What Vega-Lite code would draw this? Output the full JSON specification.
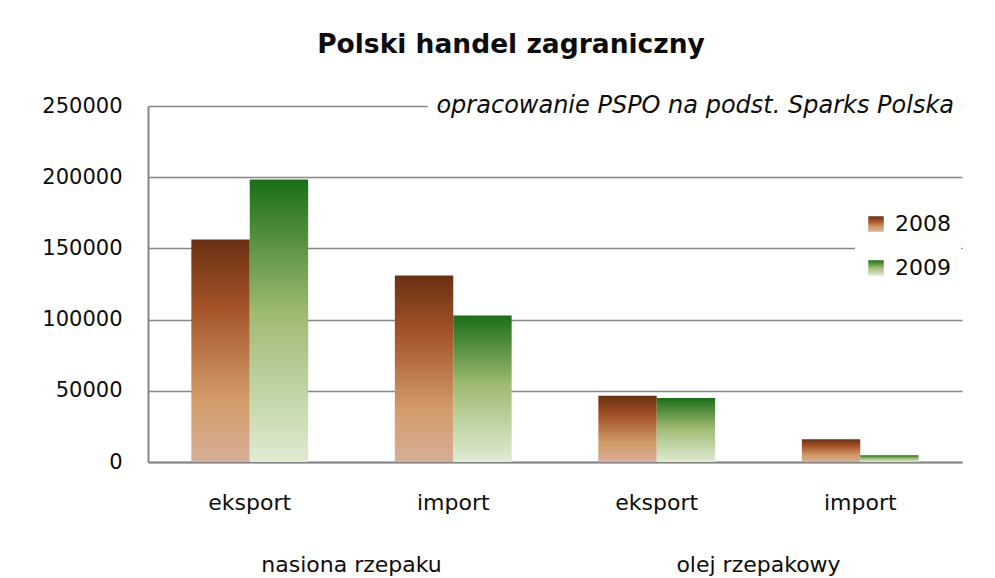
{
  "$schema": "https://vega.github.io/schema/vega-lite/v6.json",
  "width": 814,
  "height": 356,
  "autosize": {"type": "none"},
  "padding": {"left": 148, "top": 106, "right": 33, "bottom": 116},
  "background": "white",
  "title": {
    "text": "Polski handel zagraniczny",
    "font": "DejaVu Sans",
    "fontSize": 26.5,
    "fontWeight": "bold",
    "color": "#0d0d0d",
    "anchor": "middle",
    "baseline": "alphabetic",
    "offset": 15,
    "dx": -44
  },
  "data": {
    "values": [
      {"cat": "nasiona rzepaku|eksport", "product": "nasiona rzepaku", "flow": "eksport", "year": "2008", "value": 156300},
      {"cat": "nasiona rzepaku|eksport", "product": "nasiona rzepaku", "flow": "eksport", "year": "2009", "value": 198300},
      {"cat": "nasiona rzepaku|import", "product": "nasiona rzepaku", "flow": "import", "year": "2008", "value": 131000},
      {"cat": "nasiona rzepaku|import", "product": "nasiona rzepaku", "flow": "import", "year": "2009", "value": 102800},
      {"cat": "olej rzepakowy|eksport", "product": "olej rzepakowy", "flow": "eksport", "year": "2008", "value": 46500},
      {"cat": "olej rzepakowy|eksport", "product": "olej rzepakowy", "flow": "eksport", "year": "2009", "value": 45000},
      {"cat": "olej rzepakowy|import", "product": "olej rzepakowy", "flow": "import", "year": "2008", "value": 16000},
      {"cat": "olej rzepakowy|import", "product": "olej rzepakowy", "flow": "import", "year": "2009", "value": 4800}
    ]
  },
  "layer": [
    {
      "mark": {"type": "bar"},
      "encoding": {
        "x": {
          "field": "cat",
          "type": "nominal",
          "sort": null,
          "scale": {"paddingInner": 0.426, "paddingOuter": 0.213},
          "axis": {
            "title": null,
            "orient": "bottom",
            "labelExpr": "split(datum.label, '|')[1]",
            "labelAngle": 0,
            "labelFontSize": 22,
            "labelPadding": 30,
            "ticks": false,
            "grid": false,
            "domain": true,
            "domainColor": "#868686",
            "domainWidth": 2
          }
        },
        "xOffset": {
          "field": "year",
          "type": "nominal",
          "scale": {"paddingInner": 0, "paddingOuter": 0}
        },
        "y": {
          "field": "value",
          "type": "quantitative",
          "scale": {"domain": [0, 250000], "nice": false},
          "axis": {
            "title": null,
            "values": [0, 50000, 100000, 150000, 200000, 250000],
            "format": "d",
            "labelFontSize": 21,
            "labelPadding": 26,
            "ticks": false,
            "domain": true,
            "domainColor": "#868686",
            "domainWidth": 2,
            "grid": true,
            "gridColor": "#868686",
            "gridWidth": 1.5
          }
        },
        "fill": {
          "condition": {
            "test": "datum.year === '2008'",
            "value": {"gradient": "linear", "x1": 0, "y1": 0, "x2": 0, "y2": 1, "stops": [
              {"offset": 0, "color": "#6a3014"},
              {"offset": 0.3, "color": "#a35228"},
              {"offset": 0.72, "color": "#d39c6a"},
              {"offset": 1, "color": "#d6ae98"}
            ]}
          },
          "value": {"gradient": "linear", "x1": 0, "y1": 0, "x2": 0, "y2": 1, "stops": [
            {"offset": 0, "color": "#1b6e18"},
            {"offset": 0.48, "color": "#a0bb74"},
            {"offset": 1, "color": "#dfebd3"}
          ]}
        }
      }
    },
    {
      "mark": {"type": "point", "filled": true, "opacity": 0},
      "encoding": {
        "x": {
          "field": "product",
          "type": "nominal",
          "scale": {"type": "band", "paddingInner": 0, "paddingOuter": 0},
          "axis": {
            "title": null,
            "orient": "bottom",
            "labelAngle": 0,
            "labelFontSize": 22,
            "labelPadding": 92,
            "labelLimit": 0,
            "ticks": false,
            "grid": false,
            "domain": false
          }
        }
      }
    },
    {
      "transform": [{"filter": "datum.year === '2008'"}],
      "mark": {
        "type": "point",
        "filled": true,
        "opacity": 0,
        "shape": "square",
        "fill": {"gradient": "linear", "x1": 0, "y1": 0, "x2": 0, "y2": 1, "stops": [
          {"offset": 0, "color": "#6a3014"},
          {"offset": 0.3, "color": "#a35228"},
          {"offset": 0.72, "color": "#d39c6a"},
          {"offset": 1, "color": "#d6ae98"}
        ]}
      },
      "encoding": {
        "shape": {
          "field": "year",
          "type": "nominal",
          "scale": {"domain": ["2008"], "range": ["square"]},
          "legend": {
            "title": null,
            "orient": "none",
            "legendX": 707,
            "legendY": 97,
            "fillColor": "white",
            "padding": 10,
            "labelFontSize": 22,
            "labelColor": "#0d0d0d",
            "labelOffset": 8,
            "symbolType": "square",
            "symbolSize": 240,
            "symbolStrokeWidth": 0,
            "symbolOpacity": 1
          }
        }
      }
    },
    {
      "transform": [{"filter": "datum.year === '2009'"}],
      "mark": {
        "type": "point",
        "filled": true,
        "opacity": 0,
        "shape": "square",
        "fill": {"gradient": "linear", "x1": 0, "y1": 0, "x2": 0, "y2": 1, "stops": [
          {"offset": 0, "color": "#1b6e18"},
          {"offset": 0.48, "color": "#a0bb74"},
          {"offset": 1, "color": "#dfebd3"}
        ]}
      },
      "encoding": {
        "strokeDash": {
          "field": "year",
          "type": "nominal",
          "scale": {"domain": ["2009"], "range": [[1, 0]]},
          "legend": {
            "title": null,
            "orient": "none",
            "legendX": 707,
            "legendY": 141,
            "fillColor": "white",
            "padding": 10,
            "labelFontSize": 22,
            "labelColor": "#0d0d0d",
            "labelOffset": 8,
            "symbolType": "square",
            "symbolSize": 240,
            "symbolStrokeWidth": 0,
            "symbolOpacity": 1
          }
        }
      }
    },
    {
      "data": {"values": [{"note": "opracowanie PSPO na podst. Sparks Polska"}]},
      "mark": {"type": "text", "align": "right", "baseline": "middle", "dx": -8, "fontSize": 24, "fontStyle": "italic", "stroke": "white", "strokeWidth": 20, "strokeJoin": "round", "fill": "white"},
      "encoding": {
        "x": {"value": "width"},
        "y": {"datum": 250000, "type": "quantitative"},
        "text": {"field": "note", "type": "nominal"}
      }
    },
    {
      "data": {"values": [{"note": "opracowanie PSPO na podst. Sparks Polska"}]},
      "mark": {"type": "text", "align": "right", "baseline": "middle", "dx": -8, "fontSize": 24, "fontStyle": "italic", "color": "#0d0d0d"},
      "encoding": {
        "x": {"value": "width"},
        "y": {"datum": 250000, "type": "quantitative"},
        "text": {"field": "note", "type": "nominal"}
      }
    }
  ],
  "resolve": {"scale": {"x": "independent"}, "axis": {"x": "independent"}},
  "config": {
    "font": "DejaVu Sans",
    "view": {"stroke": null},
    "axis": {"labelColor": "#0d0d0d", "labelFont": "DejaVu Sans"},
    "legend": {"labelFont": "DejaVu Sans"}
  }
}
